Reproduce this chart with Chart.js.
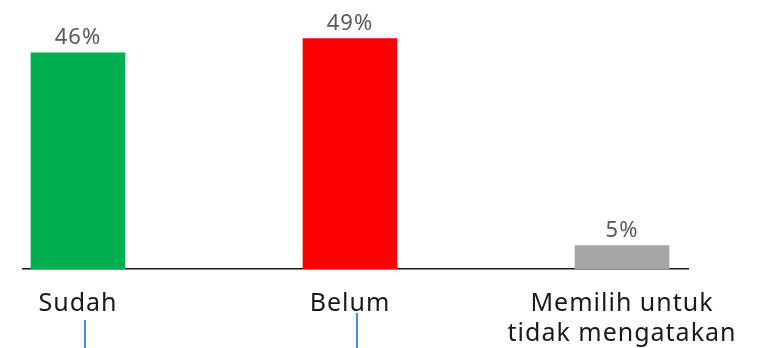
<!DOCTYPE html>
<html>
<head>
<meta charset="utf-8">
<script src="https://cdn.jsdelivr.net/npm/chart.js@4.4.1/dist/chart.umd.min.js"></script>
<style>
  html, body { margin: 0; padding: 0; background: #fff; }
  #wrap { width: 766px; height: 348px; }
</style>
</head>
<body>
<div id="wrap"><canvas id="chart"></canvas></div>
<script>
// kategori dan nilai (%)
var kategori = [["Sudah"], ["Belum"], ["Memilih untuk", "tidak mengatakan"]];
var persen = [46, 49, 5];
var warna = ["#00B050", "#FF0000", "#A6A6A6"];

var FONT = "'Noto Sans', sans-serif";

// jarak huruf sedikit dilebarkan
var spasiHuruf = {
  id: "spasiHuruf",
  beforeDraw: function (chart) {
    chart.ctx.letterSpacing = "1px";
  }
};

// label nilai di atas batang
var labelNilai = {
  id: "labelNilai",
  afterDatasetsDraw: function (chart) {
    var ctx = chart.ctx;
    var meta = chart.getDatasetMeta(0);
    ctx.save();
    ctx.letterSpacing = "1px";
    ctx.font = "22px " + FONT;
    ctx.fillStyle = "#595959";
    ctx.textAlign = "center";
    ctx.textBaseline = "alphabetic";
    meta.data.forEach(function (bar, i) {
      ctx.fillText(persen[i] + "%", bar.x, bar.y - 9);
    });
    ctx.restore();
  }
};

// garis penanda biru kecil di bawah label
var penanda = {
  id: "penanda",
  afterDraw: function (chart) {
    var ctx = chart.ctx;
    var sx = chart.scales.x;
    var mulai = [320, 313];
    ctx.save();
    ctx.strokeStyle = "#3D8AF7";
    ctx.lineWidth = 2;
    mulai.forEach(function (y0, i) {
      var x = Math.round(sx.getPixelForValue(i)) + 7;
      ctx.beginPath();
      ctx.moveTo(x, y0);
      ctx.lineTo(x, chart.height);
      ctx.stroke();
    });
    ctx.restore();
  }
};

var ctx = document.getElementById("chart");
new Chart(ctx, {
  type: "bar",
  data: {
    datasets: [{
      data: persen.map(function (v, i) { return { x: i, y: v }; }),
      backgroundColor: warna,
      barThickness: 94,
      borderWidth: 0
    }]
  },
  options: {
    responsive: true,
    maintainAspectRatio: false,
    animation: false,
    layout: { padding: { left: 23, right: 78, top: 34, bottom: -21 } },
    plugins: {
      legend: { display: false },
      tooltip: { enabled: false }
    },
    scales: {
      x: {
        type: "linear",
        offset: false,
        min: -0.2022,
        max: 2.2426,
        grid: { display: false, drawTicks: false },
        border: { display: true, color: "#1a1a1a", width: 1.5 },
        afterBuildTicks: function (axis) {
          axis.ticks = kategori.map(function (k, i) { return { value: i }; });
        },
        ticks: {
          padding: 20,
          maxRotation: 0,
          autoSkip: false,
          color: "#1a1a1a",
          font: { family: FONT, size: 25, lineHeight: 1.2 },
          callback: function (v) { return kategori[v]; }
        }
      },
      y: {
        display: false,
        min: 0,
        max: 50
      }
    }
  },
  plugins: [spasiHuruf, labelNilai, penanda]
});
</script>
</body>
</html>
